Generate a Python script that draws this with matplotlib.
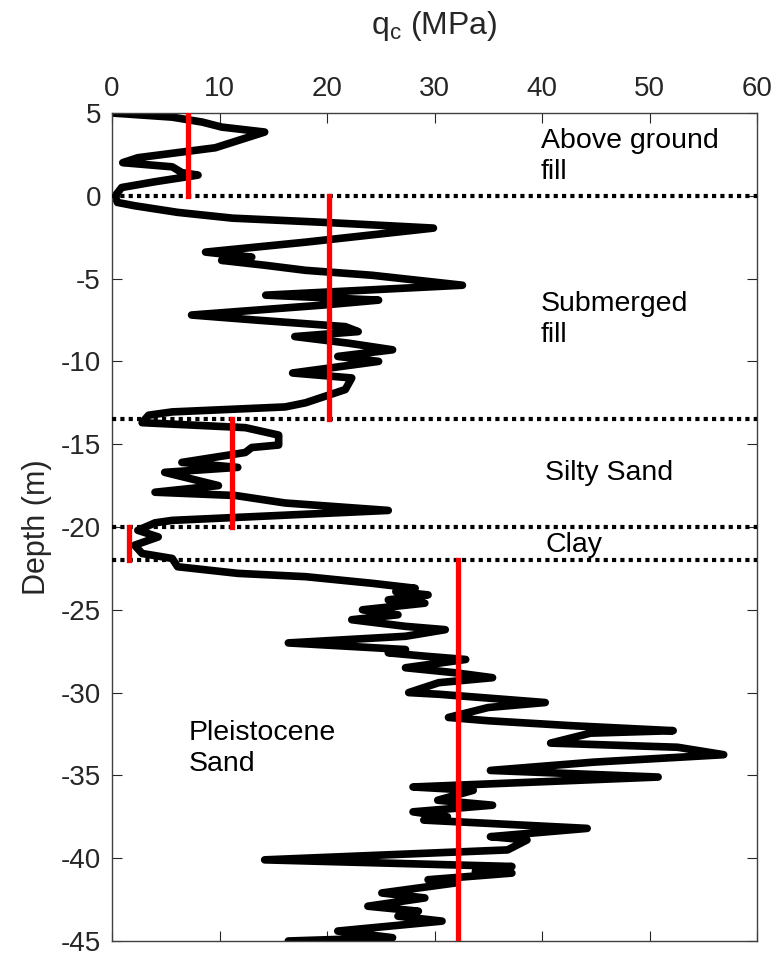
import numpy as np
import matplotlib
matplotlib.use("Agg")
import matplotlib.pyplot as plt

plt.rcParams['font.family'] = ['Liberation Sans', 'DejaVu Sans']
plt.rcParams['axes.unicode_minus'] = False

# CPT trace: cone resistance (MPa) vs depth (m)
qc = [0, 5.6, 8.4, 10.2, 14.2, 9.6, 2.4, 1.0, 5.6, 6.5, 8.0, 4.0, 0.9, 0.3, 0.5, 2.1,
      6.1, 11.2, 19.6, 29.9, 18, 8.7, 13, 10.2, 14.3, 18, 24.2, 32.6, 14.3, 24.8, 19.6,
      7.4, 13.3, 21.7, 22.9, 17, 22, 26.1, 21, 24.8, 16.8, 22.3, 21.7, 18, 16.1, 5.6,
      3.4, 2.8, 12.4, 15.5, 15.5, 13, 12.4, 6.5, 11.7, 4.9, 8, 9.9, 4.0, 11.5, 16.1,
      25.7, 5.6, 4, 2.4, 4.3, 2.1, 2.8, 5.6, 6.1, 11.7, 18, 24.2, 28.2, 26.4, 29.4,
      25.7, 29.1, 23.3, 26.6, 22.3, 27.3, 31, 27.3, 16.4, 27.3, 25.7, 29.1, 32.9, 27.3,
      31.9, 35.4, 30.4, 27.6, 30.4, 40.3, 35, 31.3, 35, 42.8, 52.2, 44.5, 40.8, 52.6,
      56.9, 44.8, 35.2, 50.8, 28, 33.6, 30.3, 35.4, 28, 31.2, 29, 44.2, 35.2, 38.6,
      36.8, 14.2, 37.2, 33.8, 37.2, 29.4, 31.9, 25.1, 29.1, 23.8, 28.5, 26.6, 30.7,
      21, 26.1, 16.4]
depth = [5.0, 4.75, 4.45, 4.15, 3.85, 2.9, 2.3, 2.0, 1.75, 1.4, 1.25, 0.85, 0.5, 0.0,
         -0.4, -0.6, -1.0, -1.35, -1.6, -1.95, -2.8, -3.4, -3.7, -3.9, -4.2, -4.5, -4.8,
         -5.4, -6.0, -6.3, -6.6, -7.2, -7.5, -7.9, -8.2, -8.5, -8.9, -9.3, -9.7, -10.0,
         -10.7, -11.0, -11.7, -12.5, -12.75, -13.05, -13.25, -13.7, -14.0, -14.45,
         -15.05, -15.2, -15.5, -16.1, -16.4, -16.7, -17.2, -17.5, -17.9, -18.1, -18.55,
         -19.0, -19.6, -19.75, -20.2, -20.6, -21.1, -21.6, -21.9, -22.4, -22.8, -23.0,
         -23.4, -23.7, -23.9, -24.1, -24.4, -24.6, -25.0, -25.3, -25.6, -26.0, -26.2,
         -26.6, -27.0, -27.4, -27.6, -27.8, -28.0, -28.5, -28.8, -29.1, -29.4, -30.0,
         -30.1, -30.6, -30.9, -31.5, -31.7, -32.0, -32.3, -32.45, -33.05, -33.3, -33.75,
         -34.2, -34.7, -35.1, -35.7, -35.9, -36.5, -36.8, -37.2, -37.5, -37.7, -38.2,
         -38.7, -38.9, -39.5, -40.1, -40.5, -40.8, -40.9, -41.3, -41.5, -42.1, -42.4,
         -42.9, -43.2, -43.5, -43.8, -44.4, -44.8, -45.0]

# layer boundaries (m) and mean qc per layer (MPa)
boundaries = [0, -13.5, -20, -22]
layer_top = [5, 0, -13.5, -20, -22]
layer_bot = [0, -13.5, -20, -22, -45]
layer_mean = [7.1, 20.2, 11.2, 1.6, 32.2]

labels = ["Above ground\nfill", "Submerged\nfill", "Silty Sand", "Clay", "Pleistocene\nSand"]
label_x = [39.9, 39.9, 40.3, 40.3, 7.1]
label_y = [2.35, -7.5, -16.75, -21.1, -33.35]

fig = plt.figure(figsize=(7.72, 9.56), dpi=100)
ax = fig.add_axes([0.1451, 0.0157, 0.8355, 0.8661])

ax.plot(qc, depth, color='black', linewidth=5.5, solid_capstyle='round',
        solid_joinstyle='round', zorder=2)

for b in boundaries:
    ax.axhline(b, color='black', linestyle=(0, (1, 1)), linewidth=3, zorder=3)

for m, t, bt in zip(layer_mean, layer_top, layer_bot):
    ax.plot([m, m], [t, bt], color='red', linewidth=3.8, zorder=4)

for s, x, y in zip(labels, label_x, label_y):
    ax.text(x, y, s, fontsize=20.5, ha='left', va='center', linespacing=1.25)

ax.set_xlim(0, 60)
ax.set_ylim(-45, 5)
ax.set_xticks(np.arange(0, 61, 10))
ax.set_yticks(np.arange(-45, 6, 5))
ax.xaxis.tick_top()
ax.xaxis.set_label_position('top')
ax.tick_params(which='both', direction='in', top=True, right=True, bottom=True,
               left=True, labelsize=20, length=7, colors='#262626', pad=8)
ax.set_xlabel("q$_\\mathregular{c}$ (MPa)", fontsize=23, labelpad=30, color='#262626')
ax.set_ylabel("Depth (m)", fontsize=22, labelpad=6, color='#262626')
for sp in ax.spines.values():
    sp.set_color('#404040')
    sp.set_linewidth(1)

fig.savefig("out.png", dpi=100)
